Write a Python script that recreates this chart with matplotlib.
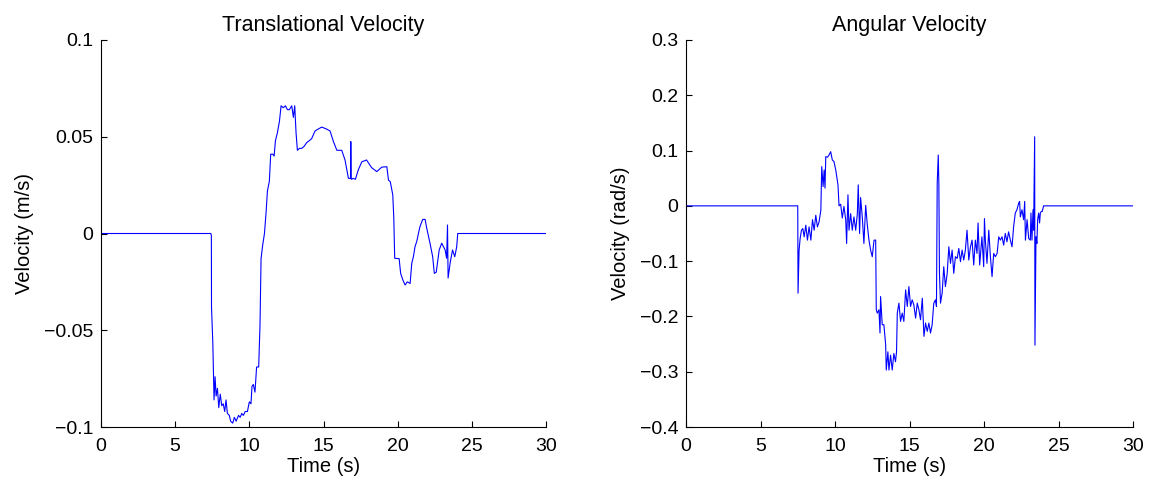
import matplotlib
matplotlib.use('Agg')
import matplotlib.pyplot as plt
import matplotlib.ticker

# translational velocity (m/s) vs time (s)
trans_t = [0, 7.40, 7.44, 7.45, 7.54, 7.62, 7.69, 7.76, 7.85, 7.94, 8.04, 8.14, 8.24, 8.34, 8.43,
           8.52, 8.65, 8.74, 8.88, 8.99, 9.11, 9.27, 9.38, 9.49, 9.60, 9.72, 9.87, 10.00, 10.11,
           10.18, 10.27, 10.38, 10.49, 10.63, 10.72, 10.79, 10.90, 11.02, 11.13, 11.22, 11.35,
           11.44, 11.58, 11.67, 11.76, 11.89, 12.03, 12.14, 12.29, 12.43, 12.57, 12.70, 12.86,
           12.97, 13.06, 13.15, 13.24, 13.38, 13.53, 13.69, 13.87, 14.05, 14.20, 14.43, 14.65,
           14.88, 15.20, 15.44, 15.67, 15.90, 16.23, 16.45, 16.68, 16.82, 16.84, 16.87, 17.00,
           17.15, 17.35, 17.58, 17.90, 18.25, 18.59, 18.93, 19.27, 19.38, 19.50, 19.67, 19.74,
           19.80, 20.10, 20.20, 20.35, 20.50, 20.65, 20.84, 20.95, 21.06, 21.17, 21.29, 21.40,
           21.50, 21.69, 21.85, 21.96, 22.18, 22.36, 22.47, 22.60, 22.80, 22.97, 23.20, 23.30,
           23.36, 23.40, 23.55, 23.70, 23.85, 23.98, 24.05, 30]
trans_v = [0, 0, -0.001, -0.038, -0.057, -0.086, -0.074, -0.084, -0.080, -0.090, -0.083, -0.089,
           -0.088, -0.092, -0.086, -0.093, -0.094, -0.097, -0.098, -0.095, -0.097, -0.094, -0.095,
           -0.093, -0.094, -0.092, -0.092, -0.087, -0.088, -0.079, -0.078, -0.082, -0.069, -0.069,
           -0.047, -0.013, -0.006, 0.0, 0.011, 0.022, 0.027, 0.041, 0.041, 0.040, 0.048, 0.052,
           0.058, 0.066, 0.065, 0.066, 0.064, 0.064, 0.066, 0.060, 0.066, 0.052, 0.043, 0.044,
           0.044, 0.045, 0.047, 0.048, 0.049, 0.053, 0.054, 0.055, 0.054, 0.053, 0.0475, 0.043,
           0.043, 0.038, 0.0285, 0.0285, 0.0475, 0.028, 0.0285, 0.028, 0.033, 0.037, 0.038, 0.034,
           0.032, 0.0343, 0.0345, 0.0276, 0.0268, 0.020, 0.0078, -0.0128, -0.013, -0.0206, -0.024,
           -0.0266, -0.025, -0.0258, -0.0154, -0.012, -0.0068, -0.004, 0.0, 0.0035, 0.0073, 0.0073,
           0.0027, -0.005, -0.012, -0.0206, -0.020, -0.0085, -0.005, -0.0085, -0.0128, 0.0044,
           -0.023, -0.0146, -0.0085, -0.012, -0.0068, 0.0, 0]

# angular velocity (rad/s) vs time (s)
ang_t = [0, 7.50, 7.52, 7.59, 7.66, 7.75, 7.84, 7.93, 8.04, 8.15, 8.26, 8.38, 8.49, 8.60, 8.71,
         8.82, 8.93, 9.05, 9.11, 9.20, 9.27, 9.33, 9.38, 9.50, 9.60, 9.71, 9.82, 9.93, 10.05,
         10.20, 10.27, 10.38, 10.49, 10.60, 10.72, 10.78, 10.87, 10.94, 11.05, 11.16, 11.27,
         11.39, 11.50, 11.56, 11.65, 11.72, 11.83, 11.94, 12.06, 12.17, 12.28, 12.39, 12.50,
         12.62, 12.73, 12.77, 12.84, 12.95, 13.02, 13.06, 13.17, 13.28, 13.40, 13.44, 13.55,
         13.62, 13.73, 13.84, 13.95, 14.06, 14.13, 14.18, 14.29, 14.40, 14.51, 14.62, 14.74,
         14.85, 14.96, 15.07, 15.18, 15.29, 15.41, 15.52, 15.63, 15.74, 15.86, 15.97, 16.08,
         16.19, 16.30, 16.41, 16.52, 16.63, 16.74, 16.81, 16.86, 16.93, 16.97, 17.01, 17.08,
         17.19, 17.30, 17.41, 17.53, 17.64, 17.75, 17.86, 17.97, 18.08, 18.20, 18.31, 18.42,
         18.53, 18.64, 18.75, 18.86, 18.98, 19.09, 19.20, 19.31, 19.42, 19.53, 19.60, 19.71,
         19.86, 19.98, 20.03, 20.09, 20.20, 20.32, 20.43, 20.54, 20.65, 20.76, 20.88, 20.99,
         21.10, 21.21, 21.32, 21.43, 21.54, 21.65, 21.77, 21.88, 21.99, 22.10, 22.21, 22.33,
         22.39, 22.44, 22.55, 22.66, 22.73, 22.78, 22.89, 23.00, 23.11, 23.15, 23.22, 23.29,
         23.33, 23.40, 23.42, 23.49, 23.55, 23.60, 23.67, 23.73, 23.78, 23.85, 23.91, 24.00, 30]
ang_v = [0, 0, -0.158, -0.080, -0.059, -0.044, -0.041, -0.056, -0.035, -0.062, -0.038, -0.062,
         -0.025, -0.044, -0.017, -0.038, -0.029, -0.008, 0.071, 0.035, 0.065, 0.032, 0.089, 0.088,
         0.092, 0.098, 0.083, 0.080, 0.065, 0.038, 0.0, 0.003, -0.022, -0.001, -0.025, -0.068,
         0.020, -0.044, -0.014, -0.044, -0.020, -0.044, -0.014, 0.038, -0.050, 0.015, -0.020,
         -0.068, 0.001, -0.035, -0.062, -0.080, -0.092, -0.062, -0.062, -0.188, -0.194, -0.188,
         -0.230, -0.164, -0.215, -0.215, -0.251, -0.297, -0.264, -0.297, -0.270, -0.297, -0.267,
         -0.282, -0.264, -0.194, -0.176, -0.209, -0.194, -0.209, -0.152, -0.182, -0.146, -0.182,
         -0.170, -0.179, -0.203, -0.176, -0.188, -0.206, -0.167, -0.236, -0.212, -0.227, -0.212,
         -0.230, -0.215, -0.176, -0.170, -0.182, 0.041, 0.092, 0.041, -0.122, -0.176, -0.158,
         -0.110, -0.146, -0.122, -0.074, -0.104, -0.080, -0.122, -0.092, -0.095, -0.077, -0.101,
         -0.080, -0.098, -0.080, -0.044, -0.098, -0.074, -0.062, -0.107, -0.062, -0.086, -0.031,
         -0.107, -0.056, -0.110, -0.023, -0.062, -0.104, -0.044, -0.092, -0.128, -0.086, -0.092,
         -0.086, -0.056, -0.062, -0.056, -0.071, -0.050, -0.065, -0.047, -0.062, -0.074, -0.037,
         -0.013, -0.007, 0.005, 0.008, -0.020, -0.007, -0.025, 0.008, -0.062, -0.025, -0.059,
         -0.062, -0.013, -0.062, -0.007, -0.044, 0.125, -0.252, -0.056, -0.068, -0.025, -0.013,
         -0.031, -0.013, -0.010, -0.010, 0.0, 0]

x_ticks = [0, 5, 10, 15, 20, 25, 30]
trans_ticks = [-0.1, -0.05, 0, 0.05, 0.1]
ang_ticks = [-0.4, -0.3, -0.2, -0.1, 0, 0.1, 0.2, 0.3]

FONT = 'Liberation Sans'
TICK_FS = 14
LABEL_FS = 14.5
TITLE_FS = 15.5


def fmt(val, pos):
    s = ('%g' % round(val, 4))
    return s.replace('-', '\u2212')


def setup_axes(ax, t, v, title, ylabel, yticks):
    ax.plot(t, v, color='#0000ff', linewidth=0.8)
    ax.set_xlim(0, 30)
    ax.set_ylim(yticks[0], yticks[-1])
    ax.set_xticks(x_ticks)
    ax.set_yticks(yticks)
    ax.yaxis.set_major_formatter(matplotlib.ticker.FuncFormatter(fmt))
    ax.set_title(title, fontsize=TITLE_FS, family=FONT, pad=6.5)
    ax.set_xlabel('Time (s)', fontsize=LABEL_FS, family=FONT, labelpad=1.5)
    ax.set_ylabel(ylabel, fontsize=LABEL_FS, family=FONT, labelpad=7)
    ax.spines[['right', 'top']].set_visible(False)
    ax.spines[['left', 'bottom']].set_linewidth(0.8)
    ax.tick_params(direction='in', length=4, width=0.8, labelsize=TICK_FS)
    ax.tick_params(axis='x', pad=8)
    ax.tick_params(axis='y', pad=5.5)
    for lbl in ax.get_xticklabels() + ax.get_yticklabels():
        lbl.set_family(FONT)


def main():
    fig = plt.figure(figsize=(11.55, 4.84), dpi=100)
    ax1 = fig.add_axes([101 / 1155, 1 - 427 / 484, 445 / 1155, 387 / 484])
    ax2 = fig.add_axes([686 / 1155, 1 - 427 / 484, 447 / 1155, 387 / 484])

    setup_axes(ax1, trans_t, trans_v, 'Translational Velocity', 'Velocity (m/s)', trans_ticks)
    setup_axes(ax2, ang_t, ang_v, 'Angular Velocity', 'Velocity (rad/s)', ang_ticks)

    fig.savefig('out.png', dpi=100)


if __name__ == '__main__':
    main()
